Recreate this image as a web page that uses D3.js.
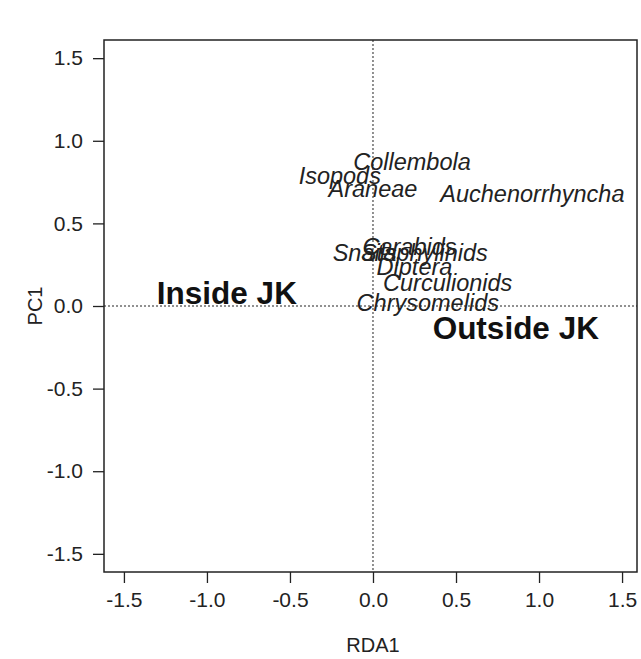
<!DOCTYPE html>
<html>
<head>
<meta charset="utf-8">
<script src="https://cdn.jsdelivr.net/npm/d3@7"></script>
<style>
  body { margin: 0; background: #fff; }
  text { font-family: "Liberation Sans", Arial, sans-serif; fill: #222; }
</style>
</head>
<body>
<script>
// species scores
var species = ["Collembola", "Isopods", "Araneae", "Auchenorrhyncha", "Snails",
               "Staphylinids", "Carabids", "Diptera", "Curculionids", "Chrysomelids"];
var spX = [0.235, -0.20, 0.0, 0.96, -0.05, 0.31, 0.22, 0.25, 0.45, 0.33];
var spY = [0.87, 0.79, 0.71, 0.68, 0.32, 0.32, 0.36, 0.24, 0.14, 0.02];

// site/group centroids
var groups = ["Inside JK", "Outside JK"];
var grX = [-0.88, 0.86];
var grY = [0.08, -0.13];

var ticks = [-1.5, -1.0, -0.5, 0.0, 0.5, 1.0, 1.5];

var width = 641, height = 659;
var box = {left: 104, right: 637, top: 40, bottom: 572};

var svg = d3.select("body").append("svg")
    .attr("width", width)
    .attr("height", height);

// setup scales
var x = d3.scaleLinear().domain([-1.62, 1.59]).range([box.left, box.right]);
var y = d3.scaleLinear().domain([-1.61, 1.61]).range([box.bottom, box.top]);
var fmt = function(d) { return d3.format(".1f")(d).replace("\u2212", "-"); };

// zero lines
svg.append("line")
    .attr("x1", x(0)).attr("x2", x(0))
    .attr("y1", box.top).attr("y2", box.bottom)
    .attr("stroke", "#222").attr("stroke-dasharray", "2,2");
svg.append("line")
    .attr("x1", box.left).attr("x2", box.right)
    .attr("y1", y(0)).attr("y2", y(0))
    .attr("stroke", "#222").attr("stroke-dasharray", "2,2");

// species labels
svg.selectAll(".sp")
    .data(species)
  .enter().append("text")
    .attr("class", "sp")
    .attr("x", function(d, i) { return x(spX[i]); })
    .attr("y", function(d, i) { return y(spY[i]); })
    .attr("dy", ".35em")
    .style("text-anchor", "middle")
    .style("font-style", "italic")
    .style("font-size", "23.5px")
    .text(function(d) { return d; });

// group labels
svg.selectAll(".grp")
    .data(groups)
  .enter().append("text")
    .attr("class", "grp")
    .attr("x", function(d, i) { return x(grX[i]); })
    .attr("y", function(d, i) { return y(grY[i]); })
    .attr("dy", ".35em")
    .style("text-anchor", "middle")
    .style("font-weight", "bold")
    .style("font-size", "31.5px")
    .style("fill", "#111")
    .text(function(d) { return d; });

// plot box
svg.append("rect")
    .attr("x", box.left).attr("y", box.top)
    .attr("width", box.right - box.left)
    .attr("height", box.bottom - box.top)
    .attr("fill", "none")
    .attr("stroke", "#222")
    .attr("stroke-width", 1.5);

// x-axis
var xAxis = d3.axisBottom(x).tickValues(ticks).tickFormat(fmt).tickSizeOuter(0).tickSize(11).tickPadding(9);
var gx = svg.append("g")
    .attr("transform", "translate(0," + box.bottom + ")")
    .call(xAxis);
gx.select(".domain").remove();
gx.selectAll("line").attr("stroke", "#222").attr("stroke-width", 1.3);
gx.selectAll("text").style("font-size", "21px").style("fill", "#222")
    .style("font-family", "'Liberation Sans', Arial, sans-serif");

// y-axis
var yAxis = d3.axisLeft(y).tickValues(ticks).tickFormat(fmt).tickSizeOuter(0).tickSize(11).tickPadding(10);
var gy = svg.append("g")
    .attr("transform", "translate(" + box.left + ",0)")
    .call(yAxis);
gy.select(".domain").remove();
gy.selectAll("line").attr("stroke", "#222").attr("stroke-width", 1.3);
gy.selectAll("text").style("font-size", "21px").style("fill", "#222")
    .style("font-family", "'Liberation Sans', Arial, sans-serif");

// axis titles
svg.append("text")
    .attr("x", x(0))
    .attr("y", 652)
    .style("text-anchor", "middle")
    .style("font-size", "20px")
    .text("RDA1");

svg.append("text")
    .attr("transform", "translate(42," + y(0) + ") rotate(-90)")
    .style("text-anchor", "middle")
    .style("font-size", "20px")
    .text("PC1");
</script>
</body>
</html>
